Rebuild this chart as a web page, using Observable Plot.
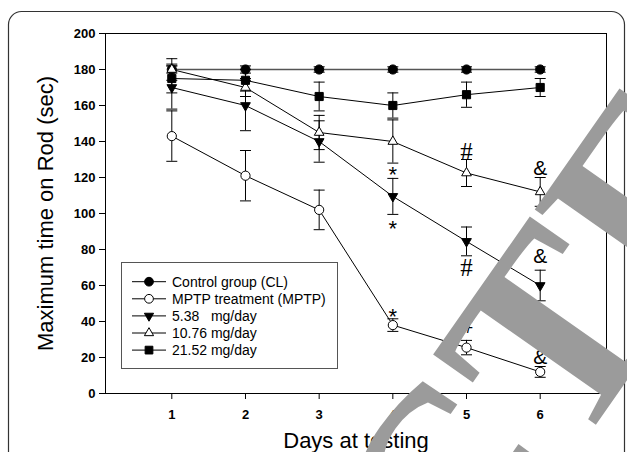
<!DOCTYPE html>
<html><head><meta charset="utf-8">
<script src="https://cdn.jsdelivr.net/npm/d3@7"></script>
<script src="https://cdn.jsdelivr.net/npm/@observablehq/plot@0.6"></script>
<style>
body{margin:0;background:#fff;}
#wrap{position:relative;width:627px;height:452px;overflow:hidden;font-family:"Liberation Sans",Arial,sans-serif;}
#wrap > svg{position:absolute;left:0;top:0;}
</style></head><body><div id="wrap"></div>
<script>
// ---- data ----
const days = [1, 2, 3, 4, 5, 6];
const yTicks = [0, 20, 40, 60, 80, 100, 120, 140, 160, 180, 200];
const seriesNames = ["Control group (CL)", "MPTP treatment (MPTP)", "5.38   mg/day", "10.76 mg/day", "21.52 mg/day"];
const controlMean = [180, 180, 180, 180, 180, 180];
const controlErr  = [2, 2, 1.5, 1.5, 1.5, 1.5];
const mptpMean    = [143, 121, 102, 38, 25.5, 12];
const mptpErr     = [14, 14, 11, 3.5, 4, 3];
const dose538Mean = [170, 160, 140, 109.5, 84.5, 60];
const dose538Err  = [12, 14, 11.5, 10, 8, 8.5];
const dose1076Mean = [180, 170, 145, 140, 122.5, 112];
const dose1076Err  = [6, 5, 9.5, 12, 7.5, 8];
const dose2152Mean = [175, 174, 165, 160, 166, 170];
const dose2152Err  = [8, 6, 8, 7, 7, 5];
const annotLabels = ["*", "*", "*", "#", "#", "#", "&", "&", "&"];
const annotDays   = [4, 4, 4, 5, 5, 5, 6, 6, 6];
const annotValues = [125, 95, 46, 134, 70, 38, 125, 76, 20];
const xTitle = "Days at testing";
const yTitle = "Maximum time on Rod (sec)";
const watermark = "RETRACTED";

// ---- symbols ----
const capSymbol = {draw(ctx, size) { const w = Math.sqrt(size / Math.PI); ctx.moveTo(-w, 0); ctx.lineTo(w, 0); }};
const triDown = {draw(ctx, size) {
  const y = -Math.sqrt(size / (3 * Math.sqrt(3)));
  ctx.moveTo(0, -y * 2); ctx.lineTo(-Math.sqrt(3) * y, y); ctx.lineTo(Math.sqrt(3) * y, y); ctx.closePath();
}};
const triUp = {draw(ctx, size) {
  const y = -Math.sqrt(size / (3 * Math.sqrt(3)));
  ctx.moveTo(0, y * 2); ctx.lineTo(-Math.sqrt(3) * y, -y); ctx.lineTo(Math.sqrt(3) * y, -y); ctx.closePath();
}};

const series = [
  {name: seriesNames[0], mean: controlMean, err: controlErr, symbol: "circle", r: 4.6, fill: "black", lineStroke: "#555", lineWidth: 1.6},
  {name: seriesNames[1], mean: mptpMean, err: mptpErr, symbol: "circle", r: 4.6, fill: "white", lineStroke: "black", lineWidth: 1},
  {name: seriesNames[2], mean: dose538Mean, err: dose538Err, symbol: triDown, r: 3.6, fill: "black", lineStroke: "black", lineWidth: 1},
  {name: seriesNames[3], mean: dose1076Mean, err: dose1076Err, symbol: triUp, r: 3.6, fill: "white", lineStroke: "black", lineWidth: 1},
  {name: seriesNames[4], mean: dose2152Mean, err: dose2152Err, symbol: "square", r: 4.6, fill: "black", lineStroke: "black", lineWidth: 1}
];
const rows = series.flatMap(s => days.map((d, j) => ({series: s.name, day: d, mean: s.mean[j], lo: s.mean[j] - s.err[j], hi: s.mean[j] + s.err[j]})));
const annots = annotLabels.map((t, i) => ({label: t, day: annotDays[i], value: annotValues[i]}));

const font = '"Liberation Sans", Arial, sans-serif';
const marks = [];
for (const s of series) {
  marks.push(Plot.line(rows.filter(r => r.series === s.name), {x: "day", y: "mean", stroke: s.lineStroke, strokeWidth: s.lineWidth}));
}
marks.push(Plot.ruleX(rows, {x: "day", y1: "lo", y2: "hi", stroke: "black", strokeWidth: 1}));
marks.push(Plot.dot(rows, {x: "day", y: "lo", symbol: capSymbol, r: 5.5, fill: "none", stroke: "black", strokeWidth: 1}));
marks.push(Plot.dot(rows, {x: "day", y: "hi", symbol: capSymbol, r: 5.5, fill: "none", stroke: "black", strokeWidth: 1}));
for (const s of series) {
  marks.push(Plot.dot(rows.filter(r => r.series === s.name), {x: "day", y: "mean", symbol: s.symbol, r: s.r, fill: s.fill, stroke: "black", strokeWidth: 1}));
}
marks.push(Plot.text(annots.filter(a => a.label === "*"), {x: "day", y: "value", text: "label", fontSize: 22, fontFamily: font, dy: 6, fill: "black"}));
marks.push(Plot.text(annots.filter(a => a.label === "#"), {x: "day", y: "value", text: "label", fontSize: 25, fontFamily: '"Liberation Serif", "Times New Roman", serif', fill: "black"}));
marks.push(Plot.text(annots.filter(a => a.label === "&"), {x: "day", y: "value", text: "label", fontSize: 21, fontFamily: font, fill: "black"}));
marks.push(Plot.frame({stroke: "black", strokeWidth: 1}));
marks.push(Plot.axisY({ticks: yTicks, tickSize: 6, tickPadding: 4, fontSize: 13, fontWeight: "bold", label: null}));
marks.push(Plot.axisX({ticks: days, tickSize: 6, tickPadding: 10, fontSize: 13, fontWeight: "bold", label: null, tickFormat: d => String(d)}));
marks.push(Plot.text([yTitle], {frameAnchor: "left", textAnchor: "middle", lineAnchor: "middle", rotate: -90, dx: -60, fontSize: 22, fontFamily: font, fill: "black"}));
marks.push(Plot.text([xTitle], {frameAnchor: "bottom", textAnchor: "middle", lineAnchor: "middle", dy: 47, fontSize: 22, fontFamily: font, fill: "black"}));

const chart = Plot.plot({
  width: 627, height: 452,
  marginLeft: 105, marginRight: 21, marginTop: 33, marginBottom: 59,
  style: {fontFamily: font, background: "transparent", overflow: "visible", color: "black"},
  x: {domain: [0.1, 6.9]},
  y: {domain: [0, 200]},
  marks
});

const wrap = document.getElementById("wrap");
// outer rounded panel border (behind)
const back = d3.create("svg").attr("width", 627).attr("height", 452);
back.append("rect").attr("x", 8.5).attr("y", 11.5).attr("width", 616).attr("height", 480).attr("rx", 13)
  .attr("fill", "white").attr("stroke", "#333").attr("stroke-width", 1.2);
wrap.appendChild(back.node());
wrap.appendChild(chart);

// overlay: legend + watermark
const over = d3.create("svg").attr("width", 627).attr("height", 452).style("pointer-events", "none");
const lg = over.append("g");
lg.append("rect").attr("x", 121.5).attr("y", 262.5).attr("width", 216).attr("height", 106).attr("fill", "white").attr("stroke", "#555").attr("stroke-width", 1);
series.forEach((s, i) => {
  const cy = 281.7 + i * 17.1;
  lg.append("line").attr("x1", 132).attr("x2", 166).attr("y1", cy).attr("y2", cy).attr("stroke", "black").attr("stroke-width", 1);
  const sym = typeof s.symbol === "string" ? (s.symbol === "circle" ? d3.symbolCircle : d3.symbolSquare) : s.symbol;
  lg.append("path").attr("d", d3.symbol(sym, Math.PI * (s.r * 0.95) ** 2)()).attr("transform", `translate(149,${cy})`)
    .attr("fill", s.fill).attr("stroke", "black").attr("stroke-width", 1);
  lg.append("text").attr("x", 172).attr("y", cy + 5).attr("font-size", 14).attr("font-family", font).attr("fill", "black")
    .attr("xml:space", "preserve").style("white-space", "pre").text(s.name);
});
const wmSize = 265;
over.append("text").attr("transform", "translate(550,334) rotate(-55)")
  .attr("x", -4.555 * wmSize).attr("y", 0.338 * wmSize).attr("font-family", '"Liberation Serif", "Times New Roman", serif').attr("font-weight", "bold")
  .attr("font-size", wmSize).attr("fill", "#9b9b9b").text(watermark);
wrap.appendChild(over.node());
</script></body></html>
